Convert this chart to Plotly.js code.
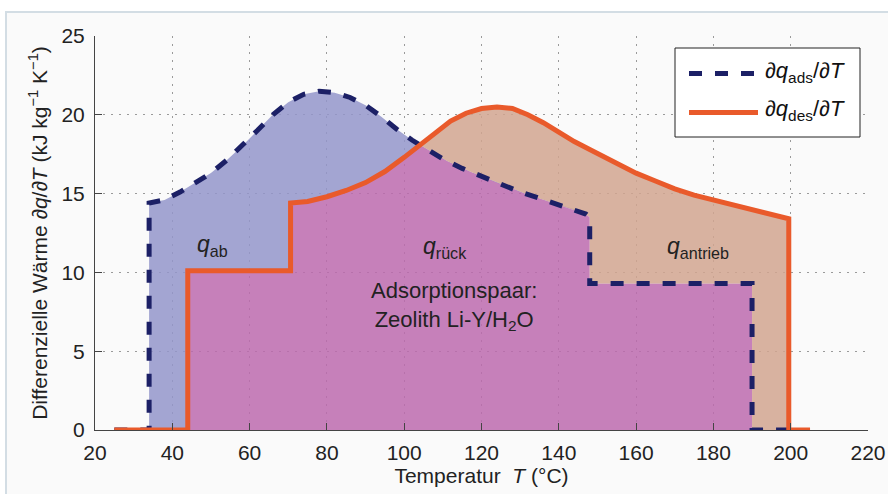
<!DOCTYPE html>
<html>
<head>
<meta charset="utf-8">
<script src="https://cdn.plot.ly/plotly-3.0.1.min.js"></script>
<style>html,body{margin:0;padding:0;background:#fff;}</style>
</head>
<body>
<div id="chart" style="width:888px;height:494px;"></div>
<script>
// Adsorption: dq_ads/dT (kJ kg^-1 K^-1) vs T (°C)
const T_ads = [25, 34, 34, 38, 42, 46, 50, 54, 58, 62, 66, 70, 74, 78, 82, 86, 90, 94, 98, 102, 106, 110, 115, 120, 125, 130, 135, 140, 144, 147, 148, 148, 190, 190, 200];
const q_ads = [0, 0, 14.4, 14.6, 15.1, 15.7, 16.3, 17.1, 18.0, 19.0, 20.0, 20.8, 21.3, 21.5, 21.4, 21.1, 20.6, 19.9, 19.1, 18.4, 17.8, 17.2, 16.6, 16.1, 15.6, 15.1, 14.7, 14.3, 14.0, 13.7, 13.5, 9.3, 9.3, 0, 0];
// Desorption: dq_des/dT
const T_des = [25, 44, 44, 70.6, 70.6, 75, 80, 85, 90, 95, 100, 104, 108, 112, 116, 120, 124, 128, 132, 136, 140, 144, 148, 152, 156, 160, 165, 170, 175, 180, 185, 190, 195, 199.5, 199.5, 205];
const q_des = [0, 0, 10.1, 10.1, 14.4, 14.5, 14.8, 15.2, 15.7, 16.4, 17.3, 18.1, 18.9, 19.6, 20.1, 20.4, 20.5, 20.4, 20.0, 19.5, 18.9, 18.3, 17.8, 17.3, 16.8, 16.3, 15.8, 15.3, 14.9, 14.6, 14.3, 14.0, 13.7, 13.4, 0, 0];

const xTicks = [20, 40, 60, 80, 100, 120, 140, 160, 180, 200, 220];
const yTicks = [0, 5, 10, 15, 20, 25];

const seriesNames = ['<i>∂q</i><sub>ads</sub>/<i>∂T</i>', '<i>∂q</i><sub>des</sub>/<i>∂T</i>'];
const regionLabels = ['<i>q</i><sub>ab</sub>', '<i>q</i><sub>rück</sub>', '<i>q</i><sub>antrieb</sub>'];
const regionLabelT = [50.5, 110.5, 176];
const regionLabelQ = [11.7, 11.6, 11.6];

// --- derived: lower envelope (overlap region) ---
function valAt(xs, ys, x) {
  for (let i = 0; i < xs.length - 1; i++) {
    if (xs[i + 1] === xs[i]) continue;
    if (x >= xs[i] && x < xs[i + 1]) return ys[i] + (ys[i + 1] - ys[i]) * (x - xs[i]) / (xs[i + 1] - xs[i]);
  }
  return x === xs[xs.length - 1] ? ys[ys.length - 1] : 0;
}
let gridSet = new Set();
T_ads.concat(T_des).forEach(t => { gridSet.add(t); gridSet.add(t - 1e-6); });
for (let t = 25; t <= 205; t += 0.25) gridSet.add(Math.round(t * 100) / 100);
const grid = Array.from(gridSet).filter(t => t >= 25 && t <= 205).sort((a, b) => a - b);
const minv = grid.map(t => Math.min(valAt(T_ads, q_ads, t), valAt(T_des, q_des, t)));

const navy = '#1c2066';
const orange = '#e95a2b';

const traces = [
  {x: grid, y: minv, mode: 'lines', line: {width: 0, color: 'rgba(0,0,0,0)'}, fill: 'tozeroy', fillcolor: 'rgba(188,106,174,0.85)', hoverinfo: 'skip', showlegend: false},
  {x: T_ads, y: q_ads, mode: 'lines', line: {width: 0, color: 'rgba(0,0,0,0)'}, fill: 'tonexty', fillcolor: 'rgba(147,149,202,0.85)', hoverinfo: 'skip', showlegend: false},
  {x: grid, y: minv, mode: 'lines', line: {width: 0, color: 'rgba(0,0,0,0)'}, hoverinfo: 'skip', showlegend: false},
  {x: T_des, y: q_des, mode: 'lines', line: {width: 0, color: 'rgba(0,0,0,0)'}, fill: 'tonexty', fillcolor: 'rgba(209,164,143,0.85)', hoverinfo: 'skip', showlegend: false},
  {x: T_ads, y: q_ads, mode: 'lines', name: seriesNames[0], line: {color: navy, width: 5, dash: '13px,13px'}, showlegend: false},
  {x: T_des, y: q_des, mode: 'lines', name: seriesNames[1], line: {color: orange, width: 5}, showlegend: false}
];

// paper-coordinate helpers for the frame and legend box (plot area 95..868 x 36..430)
const px = v => (v - 95) / 773;
const py = v => (430 - v) / 394;

const font = 'Liberation Sans, Arial, Helvetica, sans-serif';

const annotations = regionLabels.map((t, i) => ({
  x: regionLabelT[i], y: regionLabelQ[i], xref: 'x', yref: 'y', text: t, showarrow: false,
  font: {family: font, size: 23, color: '#222'}
}));
annotations.push({x: 113, y: 7.85, xref: 'x', yref: 'y', text: 'Adsorptionspaar:<br>Zeolith Li-Y/H<sub>2</sub>O', showarrow: false, align: 'center',
  font: {family: font, size: 22, color: '#222'}});
annotations.push({x: px(763), y: py(72), xref: 'paper', yref: 'paper', xanchor: 'left', yanchor: 'middle', text: seriesNames[0], showarrow: false,
  font: {family: font, size: 22, color: '#111'}});
annotations.push({x: px(763), y: py(110), xref: 'paper', yref: 'paper', xanchor: 'left', yanchor: 'middle', text: seriesNames[1], showarrow: false,
  font: {family: font, size: 22, color: '#111'}});

const shapes = [
  {type: 'rect', xref: 'paper', yref: 'paper', x0: px(6), x1: px(910), y0: py(520), y1: py(12), layer: 'below',
   line: {color: '#d3dde4', width: 2}, fillcolor: '#fafafa'},
  {type: 'rect', xref: 'paper', yref: 'paper', x0: px(675), x1: px(860), y0: py(137), y1: py(48), layer: 'above',
   line: {color: '#222', width: 1}, fillcolor: '#ffffff'},
  {type: 'line', xref: 'paper', yref: 'paper', x0: px(689), x1: px(758), y0: py(73.5), y1: py(73.5), layer: 'above',
   line: {color: navy, width: 5, dash: '13px,13px'}},
  {type: 'line', xref: 'paper', yref: 'paper', x0: px(689), x1: px(758), y0: py(112.5), y1: py(112.5), layer: 'above',
   line: {color: orange, width: 5}}
];

const axisCommon = {
  ticks: 'inside', ticklen: 7, tickcolor: '#444', tickwidth: 1,
  showline: true, linecolor: '#444', linewidth: 1,
  showgrid: true, gridcolor: '#9a9a9a', gridwidth: 1, griddash: '2px,6px',
  zeroline: false, tickfont: {family: font, size: 21, color: '#222'}
};

const layout = {
  width: 888, height: 494,
  margin: {l: 95, r: 20, t: 36, b: 64},
  paper_bgcolor: '#ffffff', plot_bgcolor: '#ffffff',
  showlegend: false,
  xaxis: Object.assign({}, axisCommon, {
    range: [20, 220], tickvals: xTicks, ticktext: xTicks.map(String),
    ticklabelstandoff: 4,
    title: {text: 'Temperatur  <i>T</i> (°C)', font: {family: font, size: 21, color: '#222'}, standoff: 1}
  }),
  yaxis: Object.assign({}, axisCommon, {
    range: [0, 25], tickvals: yTicks, ticktext: yTicks.map(String),
    ticklabelstandoff: 5,
    title: {text: 'Differenzielle Wärme <i>∂q</i>/<i>∂T</i> (kJ kg<sup>−1</sup> K<sup>−1</sup>)', font: {family: font, size: 21, color: '#222'}, standoff: 8}
  }),
  annotations: annotations,
  shapes: shapes
};

Plotly.newPlot('chart', traces, layout, {displayModeBar: false, staticPlot: true});
</script>
</body>
</html>
